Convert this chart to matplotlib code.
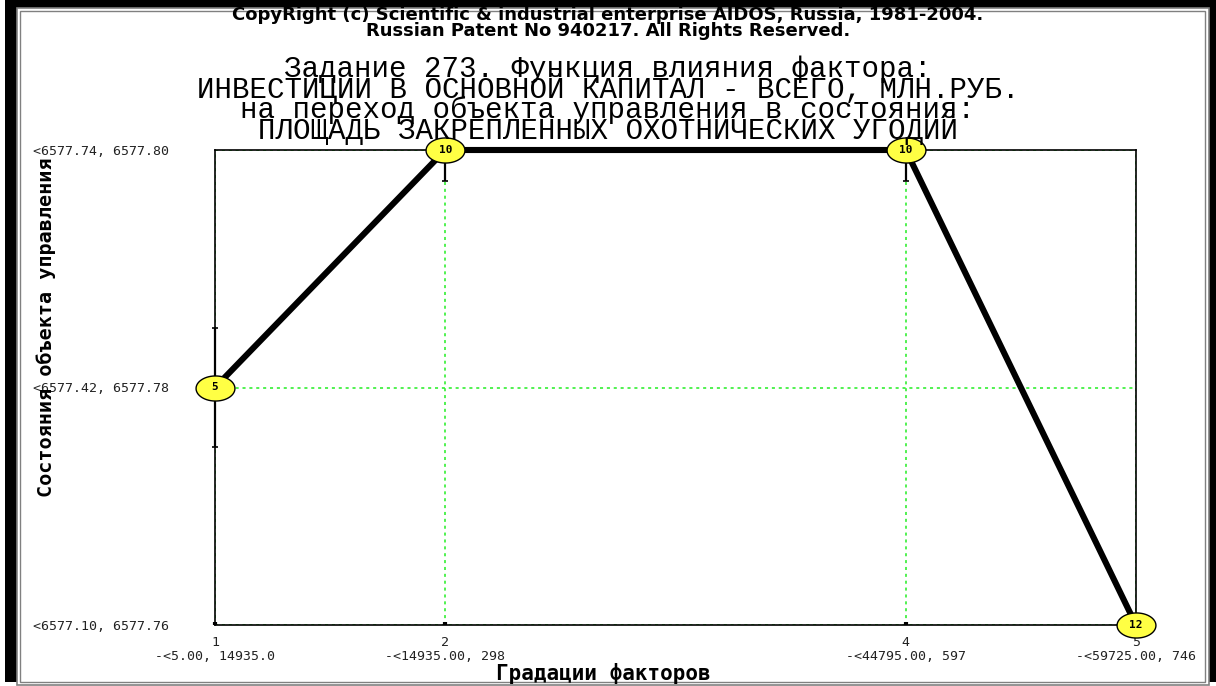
import matplotlib
matplotlib.use("Agg")
import matplotlib.pyplot as plt
import numpy as np
from matplotlib.path import Path
from matplotlib.patches import Rectangle

# ---- data ----
gradations = [1, 2, 4, 5]
x_tick_labels = ["1\n-<5.00, 14935.0", "2\n-<14935.00, 298",
                 "4\n-<44795.00, 597", "5\n-<59725.00, 746"]
state_levels = [2, 3, 3, 1]
y_levels = [1, 2, 3]
y_tick_labels = ["<6577.10, 6577.76", "<6577.42, 6577.78", "<6577.74, 6577.80"]
point_labels = ["5", "10", "10", "12"]
err_lower = [0.25, 0.13, 0.13, 0.0]
err_upper = [0.25, 0.0, 0.0, 0.0]

header_lines = ["CopyRight (c) Scientific & industrial enterprise AIDOS, Russia, 1981-2004.",
                "Russian Patent No 940217. All Rights Reserved."]
title_lines = ["Задание 273. Функция влияния фактора:",
               "ИНВЕСТИЦИИ В ОСНОВНОЙ КАПИТАЛ - ВСЕГО, МЛН.РУБ.",
               "на переход объекта управления в состояния:",
               "ПЛОЩАДЬ ЗАКРЕПЛЕННЫХ ОХОТНИЧЕСКИХ УГОДИЙ"]
x_label = "Градации факторов"
y_label = "Состояния объекта управления"

W, H = 1216, 686
fig = plt.figure(figsize=(W / 100, H / 100), dpi=100)
fig.patch.set_facecolor("white")

def fx(px):
    return px / W

def fy(py):
    return 1 - py / H

# outer window frame (behind the axes)
fig.add_artist(Rectangle((fx(5), fy(682)), fx(1216) - fx(5), fy(0) - fy(682),
                         transform=fig.transFigure, facecolor="black", edgecolor="none", zorder=-3))
fig.add_artist(Rectangle((fx(17), fy(685)), fx(1209) - fx(17), fy(8) - fy(685),
                         transform=fig.transFigure, facecolor="white", edgecolor="#808080",
                         linewidth=1.2, zorder=-2))
fig.add_artist(Rectangle((fx(20), fy(682)), fx(1205) - fx(20), fy(11) - fy(682),
                         transform=fig.transFigure, facecolor="white", edgecolor="#808080",
                         linewidth=1.0, zorder=-1))

ax = fig.add_axes([fx(215), fy(625), fx(1136) - fx(215), fy(150) - fy(625)])
ax.set_xlim(1, 5)
ax.set_ylim(1, 3)
ax.set_facecolor("none")

# grid
green = "#22ee22"
for g in gradations:
    ax.axvline(g, color=green, lw=1.1, ls=(0, (2, 2.5)), zorder=1)
for lv in y_levels:
    ax.axhline(lv, color=green, lw=1.1, ls=(0, (2, 2.5)), zorder=1)

for s in ax.spines.values():
    s.set_color("black")
    s.set_linewidth(1.2)

# error bars
ax.errorbar(gradations, state_levels, yerr=[err_lower, err_upper], fmt="none",
            ecolor="black", elinewidth=1.6, capsize=2, capthick=1.2, zorder=2, clip_on=False)

# main line
ax.plot(gradations, state_levels, color="black", lw=4.4, zorder=3, solid_capstyle="round",
        clip_on=False)

# ellipse markers
t = np.linspace(0, 2 * np.pi, 60)
ell = Path(np.column_stack([1.55 * np.cos(t), np.sin(t)]), closed=True)
ax.plot(gradations, state_levels, linestyle="none", marker=ell, markersize=28,
        markerfacecolor="#ffff44", markeredgecolor="black", markeredgewidth=1.0,
        zorder=4, clip_on=False)
for g, lv, lab in zip(gradations, state_levels, point_labels):
    ax.text(g, lv, lab, ha="center", va="center", fontsize=8, fontweight="bold",
            family="DejaVu Sans Mono", zorder=5)

# ticks
ax.set_xticks(gradations)
ax.set_xticklabels(x_tick_labels, fontsize=9.5, family="DejaVu Sans Mono",
                   linespacing=1.05, color="#222222")
ax.tick_params(axis="x", length=2, width=3, direction="in", pad=8, color="black")
ax.set_yticks(y_levels)
ax.set_yticklabels(y_tick_labels, fontsize=9.5, family="DejaVu Sans Mono",
                   ha="left", color="#222222")
ax.tick_params(axis="y", length=0, pad=131)

# axis labels
fig.text(fx(46), fy(327), y_label, rotation=90, ha="center", va="center",
         fontsize=14.5, fontweight="bold", family="DejaVu Sans Mono")
fig.text(fx(603), fy(674), x_label, ha="center", va="center",
         fontsize=15, fontweight="bold", family="DejaVu Sans Mono")

# titles
fig.text(0.5, fy(23), "\n".join(header_lines), ha="center", va="center",
         fontsize=13, fontweight="bold", family="DejaVu Sans", linespacing=0.88)
fig.text(0.5, fy(100), "\n".join(title_lines), ha="center", va="center",
         fontsize=21, family="Liberation Mono", linespacing=0.6)

fig.savefig("out.png", dpi=100, facecolor=fig.get_facecolor())
